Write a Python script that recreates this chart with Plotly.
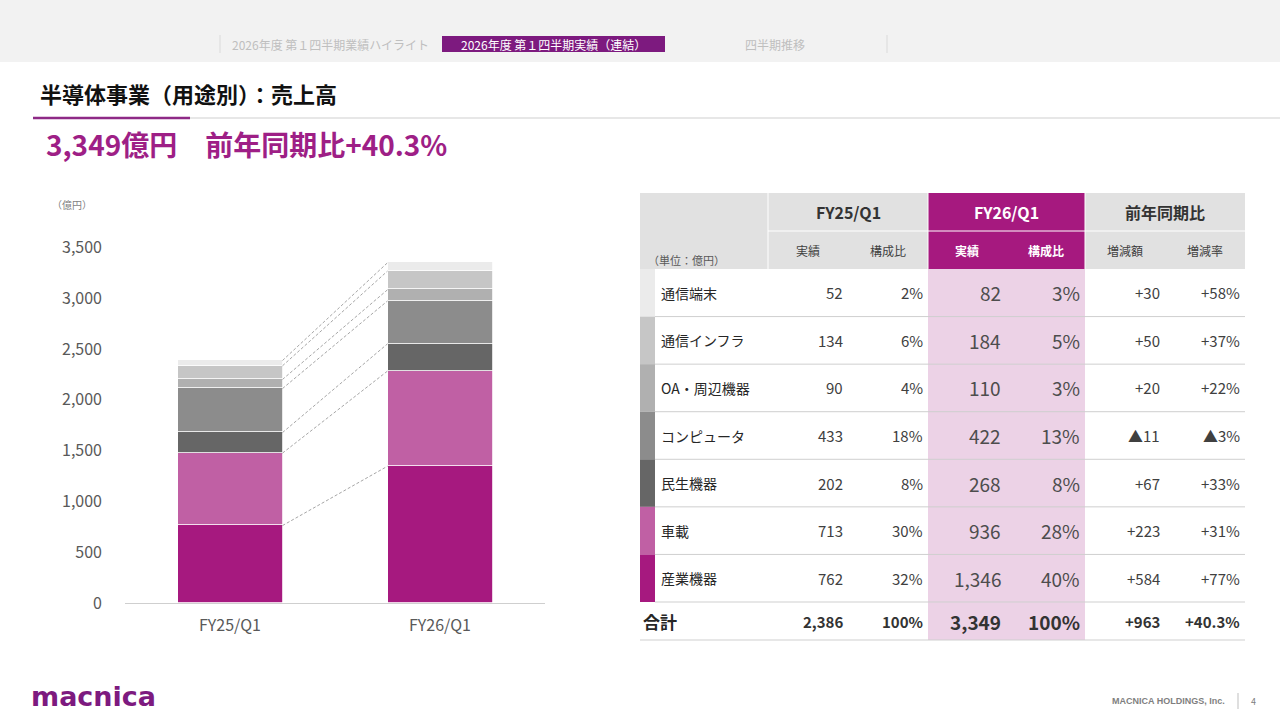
import plotly.graph_objects as go

# ---------------- data ----------------
periods = ["FY25/Q1", "FY26/Q1"]
categories = ["通信端末", "通信インフラ", "OA・周辺機器", "コンピュータ", "民生機器", "車載", "産業機器"]
fy25 = [52, 134, 90, 433, 202, 713, 762]
fy26 = [82, 184, 110, 422, 268, 936, 1346]
fy25_share = ["2%", "6%", "4%", "18%", "8%", "30%", "32%"]
fy26_share = ["3%", "5%", "3%", "13%", "8%", "28%", "40%"]
diff_amt = ["+30", "+50", "+20", "▲11", "+67", "+223", "+584"]
diff_rate = ["+58%", "+37%", "+22%", "▲3%", "+33%", "+31%", "+77%"]
total_row = ["2,386", "100%", "3,349", "100%", "+963", "+40.3%"]
colors = ["#EBEBEB", "#C6C6C6", "#B0B0B0", "#8C8C8C", "#666666", "#C060A4", "#A6197F"]
y_ticks = [0, 500, 1000, 1500, 2000, 2500, 3000, 3500]

FONT = "Noto Sans CJK JP"
W, H = 1280, 720


def px(x):
    return x / W


def py(y):
    return 1 - y / H


fig = go.Figure()

# stacked bars: bottom (産業機器) to top (通信端末)
order = list(range(len(categories)))[::-1]
for i in order:
    fig.add_trace(go.Bar(
        x=[0, 1], y=[fy25[i], fy26[i]], width=0.5,
        marker=dict(color=colors[i], line=dict(color="white", width=0.8)),
        name=categories[i], showlegend=False, hoverinfo="skip"))

# dashed connectors between segment tops
c25, c26 = 0, 0
for i in order:
    c25 += fy25[i]
    c26 += fy26[i]
    fig.add_trace(go.Scatter(
        x=[0.25, 0.75], y=[c25, c26], mode="lines",
        line=dict(color="#A6A6A6", width=1, dash="3px,2px"),
        showlegend=False, hoverinfo="skip"))

fig.update_layout(
    template="none",
    width=W, height=H, margin=dict(l=0, r=0, t=0, b=0, pad=0, autoexpand=False),
    paper_bgcolor="white", plot_bgcolor="white",
    barmode="stack", bargap=0, showlegend=False,
    font=dict(family=FONT, color="#404040"),
    xaxis=dict(domain=[px(125), px(545)], range=[-0.5, 1.5], automargin=False,
               tickvals=[0, 1], ticktext=periods, showgrid=False, zeroline=False,
               showline=True, linecolor="#CFCFCF", linewidth=1, ticks="",
               ticklabelstandoff=8,
               tickfont=dict(size=16, color="#595959", family=FONT)),
    yaxis=dict(domain=[py(603), py(247.3)], range=[0, 3500], automargin=False,
               tickvals=y_ticks, tickformat=",", showgrid=False, zeroline=False,
               showline=False, ticks="", ticklabelstandoff=22,
               tickfont=dict(size=16, color="#595959", family=FONT)),
)

shapes = []
ann = []


def rect(x0, y0, x1, y1, color, layer="below"):
    shapes.append(dict(type="rect", xref="paper", yref="paper",
                       x0=px(x0), x1=px(x1), y0=py(y1), y1=py(y0),
                       fillcolor=color, line=dict(width=0), layer=layer))


def hline(x0, x1, y, color, width=1):
    shapes.append(dict(type="line", xref="paper", yref="paper",
                       x0=px(x0), x1=px(x1), y0=py(y), y1=py(y),
                       line=dict(color=color, width=width)))


def vline(x, y0, y1, color, width=1):
    shapes.append(dict(type="line", xref="paper", yref="paper",
                       x0=px(x), x1=px(x), y0=py(y0), y1=py(y1),
                       line=dict(color=color, width=width)))


def text(x, y, s, size=12, color="#404040", anchor="left", bold=False, family=FONT):
    if bold:
        s = "<b>" + s + "</b>"
    ann.append(dict(x=px(x), y=py(y), xref="paper", yref="paper", text=s,
                    showarrow=False, xanchor=anchor, yanchor="middle",
                    font=dict(size=size, color=color, family=family)))


# ---------------- header band ----------------
rect(0, 0, W, 62, "#F2F2F2")
vline(220, 35, 53, "#DADADA")
vline(887, 35, 53, "#DADADA")
text(230, 44, "2026年度 第１四半期業績ハイライト", 12, "#BFBFBF")
rect(442, 36, 665, 52, "#7D1A7F")
text(553, 44, "2026年度 第１四半期実績（連結）", 12, "#FFFFFF", anchor="center")
text(775, 44, "四半期推移", 12, "#BFBFBF", anchor="center")

# ---------------- title ----------------
text(38, 93, "半導体事業（用途別）：売上高", 22, "#111111", bold=True)
hline(190, W, 118, "#CFCFCF", 1)
hline(33, 190, 118, "#8E2A86", 2.5)
text(44, 144, "3,349億円　前年同期比+40.3%", 28, "#9E1F86", bold=True)

# chart unit
text(50, 204, "（億円）", 10, "#7F7F7F")

# ---------------- table ----------------
TL, TR = 640, 1245
col_edges = [768, 848, 928, 1006, 1085, 1165, 1245]
h1_top, h1_bot, h2_bot = 193, 231, 269
row_h = (602 - 269) / len(categories)
body_bot = 602
total_bot = 640

# header backgrounds
rect(TL, h1_top, TR, h2_bot, "#E1E1E1")
rect(928, h1_top, 1085, h2_bot, "#A6197F")
# pink body column
rect(928, h2_bot, 1085, total_bot, "#ECD2E6")
# header separators
hline(768, 1245, h1_bot, "#FFFFFF", 1)
for xe in [768, 928, 1085]:
    vline(xe, h1_top, h2_bot, "#FFFFFF", 1)

group_centers = [(768 + 928) / 2, (928 + 1085) / 2, (1085 + 1245) / 2]
group_titles = ["FY25/Q1", "FY26/Q1", "前年同期比"]
group_colors = ["#333333", "#FFFFFF", "#333333"]
for gx, gt, gc in zip(group_centers, group_titles, group_colors):
    text(gx, 212, gt, 16, gc, anchor="center", bold=True)

sub_titles = ["実績", "構成比", "実績", "構成比", "増減額", "増減率"]
for k, st in enumerate(sub_titles):
    cx = (col_edges[k] + col_edges[k + 1]) / 2
    colr = "#FFFFFF" if k in (2, 3) else "#404040"
    text(cx, 250, st, 12, colr, anchor="center", bold=(k in (2, 3)))
text(646, 260, "（単位：億円）", 11, "#595959")

# body rows
for r, cat in enumerate(categories):
    y0 = h2_bot + r * row_h
    y1 = y0 + row_h
    yc = (y0 + y1) / 2
    rect(TL, y0, 655, y1, colors[r], layer="above")
    hline(655, TR, y1, "#CFCFCF", 1)
    text(659, yc, cat, 14, "#262626")
    vals = [f"{fy25[r]:,}", fy25_share[r], f"{fy26[r]:,}", fy26_share[r], diff_amt[r], diff_rate[r]]
    for k, v in enumerate(vals):
        big = k in (2, 3)
        text(col_edges[k + 1] - 3, yc, v, 19 if big else 15,
             "#4D4D4D" if big else "#404040", anchor="right")

# total row
yc = (body_bot + total_bot) / 2
text(641, yc, "合計", 17, "#262626", bold=True)
for k, v in enumerate(total_row):
    big = k in (2, 3)
    text(col_edges[k + 1] - 3, yc, v, 19 if big else 15,
         "#333333", anchor="right", bold=True)
hline(TL, TR, total_bot, "#CFCFCF", 1)

# ---------------- footer ----------------
text(29, 696, "macnica", 27, "#7D1A7F", bold=True, family="DejaVu Sans")
text(1227, 701, "MACNICA HOLDINGS, Inc.", 9, "#7F7F7F", anchor="right", bold=True, family="Liberation Sans")
vline(1238, 693, 709, "#BFBFBF")
text(1253, 701, "4", 9, "#7F7F7F", anchor="center")

fig.update_layout(shapes=shapes, annotations=ann)
fig.write_html("out.html")
